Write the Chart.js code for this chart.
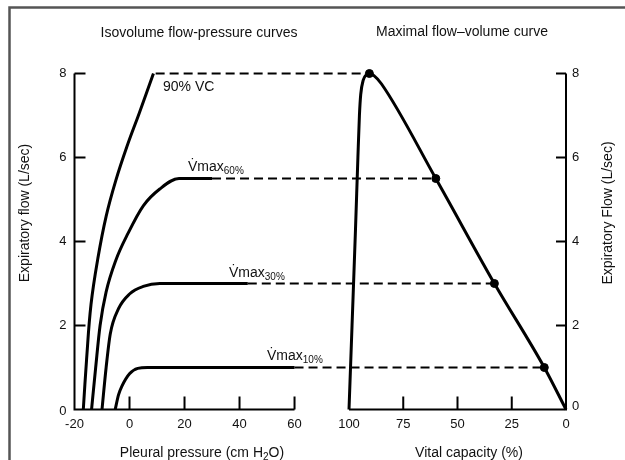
<!DOCTYPE html>
<html><head><meta charset="utf-8">
<script src="https://cdn.jsdelivr.net/npm/chart.js@4.4.1/dist/chart.umd.min.js"></script>
<style>html,body{margin:0;padding:0;background:#fff}canvas{display:block}</style>
</head><body>
<canvas id="c" width="625" height="460"></canvas>
<script>
// ---- tick labels ----
const flowTicks = [0, 2, 4, 6, 8];
const pressureTicks = [-20, 0, 20, 40, 60];
const vcTicks = [100, 75, 50, 25, 0];

// ---- isovolume flow-pressure curves (pleural pressure cm H2O, flow L/sec) ----
const iso90Pressure = [-16.8, -15.6, -14, -11.5, -8.5, -5, -1, 3.5, 8.7];
const iso90Flow     = [0, 1.2, 2.5, 3.6, 4.6, 5.45, 6.25, 7.05, 8.0];
const iso60Pressure = [-13.8, -12.3, -10.7, -8.5, -5, -0.5, 5, 11, 18, 30];
const iso60Flow     = [0, 1, 2, 2.8, 3.55, 4.2, 4.85, 5.25, 5.5, 5.5];
const iso30Pressure = [-10, -8.5, -7, -4, 0, 5, 11, 43];
const iso30Flow     = [0, 1, 1.8, 2.4, 2.75, 2.93, 3, 3];
const iso10Pressure = [-5.2, -4, -2.8, 0, 3, 6.5, 60];
const iso10Flow     = [0, 0.35, 0.55, 0.85, 0.98, 1, 1];

// ---- maximal flow-volume curve (vital capacity %, flow L/sec) ----
const mefvVC   = [100, 98.6, 97, 95.9, 95.2, 94.6, 93.4, 92, 90.6, 88.5, 85, 60, 33, 10, 0];
const mefvFlow = [0, 2, 4.3, 6, 7, 7.5, 7.85, 7.97, 8, 7.95, 7.75, 5.5, 3, 1, 0];

// ---- marked points and connectors ----
const markVC         = [90.6, 60, 33, 10];
const markFlow       = [8, 5.5, 3, 1];
const connectorStart = [9.5, 30, 43, 60];   // pleural pressure where dashes begin
const curveNames     = ['90% VC', '60%', '30%', '10%'];

const FONT = "'Liberation Sans', Arial, Helvetica, sans-serif";
const pts = (xs, ys) => xs.map((x, i) => ({x: x, y: ys[i]}));

function curveDs(xs, ys, smooth) {
  const d = {data: pts(xs, ys), xAxisID: 'p', yAxisID: 'y', showLine: true,
    borderColor: '#000', borderWidth: 3, pointRadius: 0, fill: false, clip: false};
  if (smooth) { d.tension = 0.4; } else { d.cubicInterpolationMode = 'monotone'; }
  return d;
}

const panelPlugin = {
  id: 'panels',
  beforeDatasetsDraw(chart) {
    const ctx = chart.ctx;
    const P = chart.scales.p, V = chart.scales.vc, Y = chart.scales.y;
    ctx.save();
    // frame
    ctx.strokeStyle = '#555'; ctx.lineWidth = 2.5;
    ctx.beginPath(); ctx.moveTo(9.5, 460); ctx.lineTo(9.5, 7.5); ctx.lineTo(625, 7.5); ctx.stroke();

    ctx.strokeStyle = '#000'; ctx.fillStyle = '#111'; ctx.lineWidth = 2;
    const y0 = Y.getPixelForValue(0), y8 = Y.getPixelForValue(flowTicks[flowTicks.length - 1]);
    const xl = P.getPixelForValue(pressureTicks[0]);
    const xr = V.getPixelForValue(0);
    // left panel axes
    ctx.beginPath();
    ctx.moveTo(xl, y8); ctx.lineTo(xl, y0);
    ctx.lineTo(P.getPixelForValue(pressureTicks[pressureTicks.length - 1]), y0);
    ctx.stroke();
    // right panel axes
    ctx.beginPath();
    ctx.moveTo(V.getPixelForValue(vcTicks[0]), y0); ctx.lineTo(xr, y0); ctx.lineTo(xr, y8);
    ctx.stroke();
    // tick marks
    ctx.beginPath();
    flowTicks.forEach(v => {
      if (v === 0) return;
      const y = Y.getPixelForValue(v);
      ctx.moveTo(xl, y); ctx.lineTo(xl + 11, y);
      ctx.moveTo(xr, y); ctx.lineTo(xr - 10, y);
    });
    pressureTicks.forEach(v => {
      if (v === pressureTicks[0]) return;
      const x = P.getPixelForValue(v);
      ctx.moveTo(x, y0); ctx.lineTo(x, y0 - 13);
    });
    vcTicks.forEach(v => {
      if (v === 100 || v === 0) return;
      const x = V.getPixelForValue(v);
      ctx.moveTo(x, y0); ctx.lineTo(x, y0 - 13);
    });
    ctx.stroke();
    // tick labels
    ctx.font = '13px ' + FONT;
    ctx.textBaseline = 'middle';
    ctx.textAlign = 'right';
    flowTicks.forEach(v => ctx.fillText(String(v), xl - 8, Y.getPixelForValue(v) + (v === 0 ? 2 : 0)));
    ctx.textAlign = 'left';
    flowTicks.forEach(v => ctx.fillText(String(v), xr + 6, Y.getPixelForValue(v) - (v === 0 ? 3 : 0)));
    ctx.textAlign = 'center';
    pressureTicks.forEach(v => ctx.fillText(String(v), P.getPixelForValue(v), y0 + 15));
    vcTicks.forEach(v => ctx.fillText(String(v), V.getPixelForValue(v), y0 + 15));

    // titles
    ctx.font = '14px ' + FONT;
    ctx.textBaseline = 'alphabetic';
    ctx.fillText('Isovolume flow-pressure curves', 199, 37);
    ctx.fillText('Maximal flow\u2013volume curve', 462, 36);

    // axis titles with subscript
    const sub = (parts, cx, by) => {
      let w = 0;
      parts.forEach(pt => { ctx.font = (pt[1] ? '10px ' : '14px ') + FONT; w += ctx.measureText(pt[0]).width; });
      let x = cx - w / 2;
      ctx.textAlign = 'left';
      parts.forEach(pt => {
        ctx.font = (pt[1] ? '10px ' : '14px ') + FONT;
        ctx.fillText(pt[0], x, by + (pt[1] ? 3 : 0));
        x += ctx.measureText(pt[0]).width;
      });
    };
    sub([['Pleural pressure (cm H', 0], ['2', 1], ['O)', 0]], 202, 457);
    sub([['Vital capacity (%)', 0]], 469, 457);

    // rotated y titles
    ctx.font = '14px ' + FONT; ctx.textAlign = 'center'; ctx.textBaseline = 'middle';
    ctx.save(); ctx.translate(25, 213); ctx.rotate(-Math.PI / 2);
    ctx.fillText('Expiratory flow (L/sec)', 0, 0); ctx.restore();
    ctx.save(); ctx.translate(608, 213); ctx.rotate(-Math.PI / 2);
    ctx.fillText('Expiratory Flow (L/sec)', 0, 0); ctx.restore();

    // curve labels
    ctx.textBaseline = 'alphabetic'; ctx.textAlign = 'left';
    ctx.font = '14px ' + FONT;
    ctx.fillText(curveNames[0], 163, 91);
    const vmax = (x, by, s) => {
      ctx.font = '14px ' + FONT;
      ctx.fillText('Vmax', x, by);
      const vw = ctx.measureText('V').width;
      const mw = ctx.measureText('Vmax').width;
      ctx.textAlign = 'center';
      ctx.fillText('\u02D9', x + vw / 2 + 0.5, by - 2);
      ctx.textAlign = 'left';
      ctx.font = '10px ' + FONT;
      ctx.fillText(s, x + mw, by + 3);
    };
    vmax(188, 171, curveNames[1]);
    vmax(229, 277, curveNames[2]);
    vmax(267, 360, curveNames[3]);

    // dashed connectors
    ctx.strokeStyle = '#000'; ctx.lineWidth = 2; ctx.setLineDash([9, 5]);
    ctx.beginPath();
    markFlow.forEach((f, i) => {
      const y = Y.getPixelForValue(f);
      ctx.moveTo(P.getPixelForValue(connectorStart[i]), y);
      ctx.lineTo(V.getPixelForValue(markVC[i]), y);
    });
    ctx.stroke();
    ctx.restore();
  }
};

new Chart(document.getElementById('c'), {
  type: 'scatter',
  data: {
    datasets: [
      curveDs(iso90Pressure, iso90Flow, true),
      curveDs(iso60Pressure, iso60Flow),
      curveDs(iso30Pressure, iso30Flow),
      curveDs(iso10Pressure, iso10Flow),
      {data: pts(mefvVC, mefvFlow), xAxisID: 'vc', yAxisID: 'y', showLine: true,
        borderColor: '#000', borderWidth: 3, pointRadius: 0, fill: false,
        cubicInterpolationMode: 'monotone', clip: false},
      {data: pts(markVC, markFlow), xAxisID: 'vc', yAxisID: 'y', showLine: false,
        pointRadius: 4, pointBackgroundColor: '#000', pointBorderColor: '#000', clip: false}
    ]
  },
  options: {
    responsive: false, animation: false, devicePixelRatio: 1,
    layout: {padding: {left: 74.5, right: 59, top: 73.5, bottom: 50.5}},
    plugins: {legend: {display: false}, tooltip: {enabled: false}},
    scales: {
      p:  {type: 'linear', axis: 'x', position: 'bottom', min: -20, max: 158.7, display: false},
      vc: {type: 'linear', axis: 'x', position: 'bottom', min: 0, max: 226.5, reverse: true, display: false},
      y:  {type: 'linear', min: 0, max: 8, display: false}
    }
  },
  plugins: [panelPlugin]
});
</script>
</body></html>
